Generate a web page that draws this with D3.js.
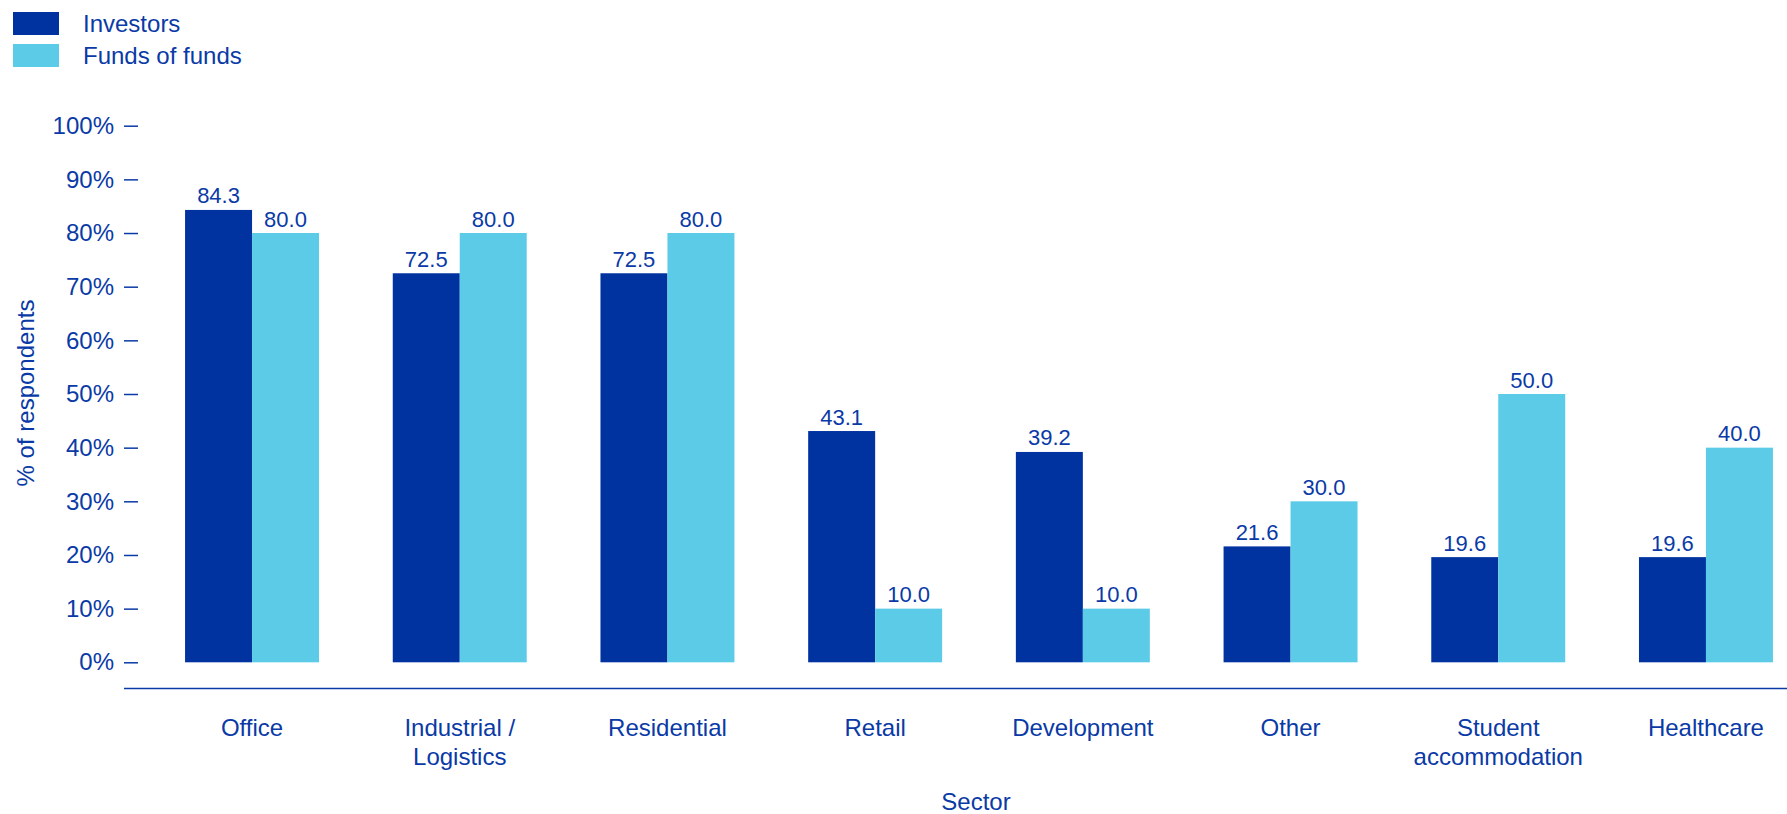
<!DOCTYPE html>
<html>
<head>
<meta charset="utf-8">
<script src="https://cdn.jsdelivr.net/npm/d3@7"></script>
<style>
  html, body { margin: 0; padding: 0; background: #ffffff; }
  svg { display: block; font-family: "Liberation Sans", Arial, sans-serif; }
</style>
</head>
<body>
<svg id="chart" width="1787" height="814"></svg>
<script>
// Sectors and the share of respondents (%) in each group
const sectors = [
  ["Office"],
  ["Industrial /", "Logistics"],
  ["Residential"],
  ["Retail"],
  ["Development"],
  ["Other"],
  ["Student", "accommodation"],
  ["Healthcare"]
];
const seriesNames = ["Investors", "Funds of funds"];
const investors = [84.3, 72.5, 72.5, 43.1, 39.2, 21.6, 19.6, 19.6];
const fundsOfFunds = [80.0, 80.0, 80.0, 10.0, 10.0, 30.0, 50.0, 40.0];
const yTicks = [0, 10, 20, 30, 40, 50, 60, 70, 80, 90, 100];

const colors = ["#0033a0", "#5bcbe8"];
const textColor = "#0a3aa6";

const W = 1787, H = 814;
const svg = d3.select("#chart");

const keys = sectors.map(s => s.join(" "));
const rows = keys.map((k, i) => ({ key: k, lines: sectors[i], values: [investors[i], fundsOfFunds[i]] }));

// Scales
const y = d3.scaleLinear().domain([0, 100]).range([662.3, 125.7]);
const x = d3.scaleBand()
  .domain(keys)
  .range([124, 1834])
  .paddingInner(0.355)
  .paddingOuter(0.294);
const xs = d3.scaleBand().domain(seriesNames).range([0, x.bandwidth()]).padding(0);

// Y axis: ticks only, no domain line
const yAxis = d3.axisLeft(y)
  .tickValues(yTicks)
  .tickSize(14)
  .tickPadding(10)
  .tickFormat(d => d + "%");
const gy = svg.append("g").attr("transform", "translate(138,0)").call(yAxis);
gy.select(".domain").remove();
gy.selectAll(".tick line").attr("stroke", textColor).attr("stroke-width", 1.5);
gy.selectAll(".tick text")
  .attr("fill", textColor)
  .attr("font-size", 24)
  .attr("font-family", "'Liberation Sans', Arial, sans-serif");

// Baseline of the category axis
svg.append("line")
  .attr("x1", 124).attr("x2", W)
  .attr("y1", 688.5).attr("y2", 688.5)
  .attr("stroke", textColor).attr("stroke-width", 1.6);

// Bars
const groups = svg.append("g").selectAll("g")
  .data(rows).join("g")
  .attr("transform", d => `translate(${x(d.key)},0)`);

groups.selectAll("rect")
  .data(d => d.values.map((v, j) => ({ s: seriesNames[j], v, j })))
  .join("rect")
  .attr("x", d => xs(d.s))
  .attr("y", d => y(d.v))
  .attr("width", xs.bandwidth())
  .attr("height", d => y(0) - y(d.v))
  .attr("fill", d => colors[d.j]);

// Value labels
groups.selectAll("text.val")
  .data(d => d.values.map((v, j) => ({ s: seriesNames[j], v, j })))
  .join("text")
  .attr("class", "val")
  .attr("x", d => xs(d.s) + xs.bandwidth() / 2)
  .attr("y", d => y(d.v) - 6.5)
  .attr("text-anchor", "middle")
  .attr("fill", textColor)
  .attr("font-size", 22)
  .text(d => d.v.toFixed(1));

// Category labels
const cat = svg.append("g").selectAll("text")
  .data(rows).join("text")
  .attr("x", d => x(d.key) + x.bandwidth() / 2)
  .attr("y", 736)
  .attr("text-anchor", "middle")
  .attr("fill", textColor)
  .attr("font-size", 24);
cat.selectAll("tspan")
  .data(d => d.lines)
  .join("tspan")
  .attr("x", function () { return d3.select(this.parentNode).attr("x"); })
  .attr("dy", (d, i) => i === 0 ? 0 : 29)
  .text(d => d);

// Axis titles
svg.append("text")
  .attr("x", 976).attr("y", 810)
  .attr("text-anchor", "middle")
  .attr("fill", textColor)
  .attr("font-size", 24)
  .text("Sector");

svg.append("text")
  .attr("transform", "translate(34,393) rotate(-90)")
  .attr("text-anchor", "middle")
  .attr("fill", textColor)
  .attr("font-size", 24)
  .text("% of respondents");

// Legend
const legend = svg.append("g").selectAll("g")
  .data(seriesNames).join("g")
  .attr("transform", (d, i) => `translate(13,${12 + i * 32})`);
legend.append("rect")
  .attr("width", 46).attr("height", 23)
  .attr("fill", (d, i) => colors[i]);
legend.append("text")
  .attr("x", 70).attr("y", 19.5)
  .attr("fill", textColor)
  .attr("font-size", 24)
  .text(d => d);
</script>
</body>
</html>
